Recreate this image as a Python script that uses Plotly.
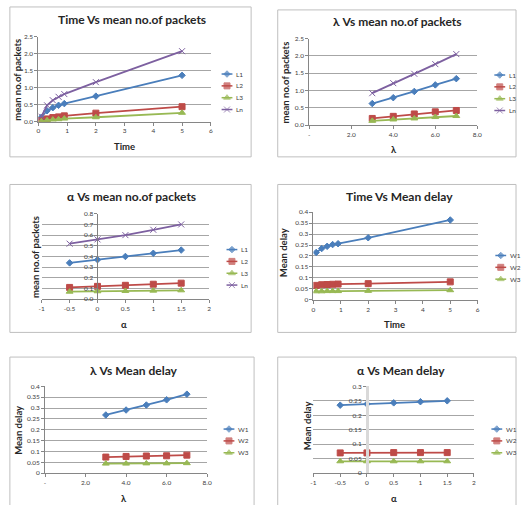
import plotly.graph_objects as go

W, H = 522, 508

# ---------------- data ----------------
time_x = [0.1, 0.3, 0.5, 0.7, 0.9, 2, 5]
lam_x = [3, 4, 5, 6, 7]
alpha_x = [-0.5, 0, 0.5, 1, 1.5]

time_L1 = [0.13, 0.32, 0.41, 0.48, 0.53, 0.75, 1.36]
time_L2 = [0.03, 0.08, 0.12, 0.14, 0.17, 0.25, 0.44]
time_L3 = [0.01, 0.04, 0.06, 0.07, 0.09, 0.13, 0.26]
time_Ln = [0.15, 0.48, 0.63, 0.73, 0.81, 1.16, 2.07]

lam_L1 = [0.62, 0.79, 0.97, 1.16, 1.34]
lam_L2 = [0.19, 0.25, 0.32, 0.38, 0.42]
lam_L3 = [0.12, 0.16, 0.19, 0.23, 0.26]
lam_Ln = [0.92, 1.21, 1.48, 1.76, 2.05]

alpha_L1 = [0.34, 0.37, 0.40, 0.43, 0.46]
alpha_L2 = [0.11, 0.12, 0.13, 0.14, 0.15]
alpha_L3 = [0.070, 0.074, 0.077, 0.080, 0.083]
alpha_Ln = [0.52, 0.56, 0.60, 0.65, 0.70]

time_W1 = [0.216, 0.234, 0.244, 0.252, 0.256, 0.283, 0.364]
time_W2 = [0.066, 0.069, 0.070, 0.071, 0.072, 0.074, 0.082]
time_W3 = [0.039, 0.039, 0.040, 0.040, 0.040, 0.041, 0.044]

lam_W1 = [0.268, 0.291, 0.314, 0.338, 0.364]
lam_W2 = [0.074, 0.077, 0.079, 0.080, 0.083]
lam_W3 = [0.044, 0.044, 0.045, 0.045, 0.046]

alpha_W1 = [0.235, 0.239, 0.243, 0.247, 0.250]
alpha_W2 = [0.070, 0.070, 0.071, 0.071, 0.071]
alpha_W3 = [0.041, 0.041, 0.041, 0.041, 0.041]

L_names = ["L1", "L2", "L3", "Ln"]
W_names = ["W1", "W2", "W3"]

titles = ["Time Vs mean no.of packets", "λ Vs mean no.of packets",
          "α Vs mean no.of packets", "Time Vs Mean delay",
          "λ Vs Mean delay", "α Vs Mean delay"]
x_titles = ["Time", "λ", "α", "Time", "λ", "α"]
y_titles = ["mean no.of packets", "mean no.of packets", "mean no.of packets",
            "Mean delay", "Mean delay", "Mean delay"]

time_ticks = [0, 1, 2, 3, 4, 5, 6]
time_ticktext = ["0", "1", "2", "3", "4", "5", "6"]
lam_ticks = [0, 2, 4, 6, 8]
lam_ticktext = ["-", "2.0", "4.0", "6.0", "8.0"]
alpha_ticks = [-1, -0.5, 0, 0.5, 1, 1.5, 2]
alpha_ticktext = ["-1", "-0.5", "0", "0.5", "1", "1.5", "2"]

pk_yticks = [0, 0.5, 1.0, 1.5, 2.0, 2.5]
pk_yticktext = ["0.0", "0.5", "1.0", "1.5", "2.0", "2.5"]
al_yticks = [0, 0.1, 0.2, 0.3, 0.4, 0.5, 0.6, 0.7, 0.8]
al_yticktext = ["0.0", "0.1", "0.2", "0.3", "0.4", "0.5", "0.6", "0.7", "0.8"]
d4_yticks = [0, 0.05, 0.1, 0.15, 0.2, 0.25, 0.3, 0.35, 0.4]
d4_yticktext = ["0", "0.05", "0.1", "0.15", "0.2", "0.25", "0.3", "0.35", "0.4"]
d3_yticks = [0, 0.05, 0.1, 0.15, 0.2, 0.25, 0.3]
d3_yticktext = ["0", "0.05", "0.1", "0.15", "0.2", "0.25", "0.3"]

# ---------------- styles ----------------
COLORS = ["#4A7EBB", "#BE4B48", "#98B954", "#7D60A0"]
SYMBOLS = ["diamond", "square", "triangle-up", "x-thin"]
MSIZE = [5, 6, 6, 6]
FONT = "Lato, Liberation Sans, sans-serif"
TICKFONT = dict(family=FONT, size=6.5, color="#404040")

panels = [
    dict(x=time_x, ys=[time_L1, time_L2, time_L3, time_Ln], names=L_names,
         xr=[0, 6], yr=[0, 2.5], xt=(time_ticks, time_ticktext), yt=(pk_yticks, pk_yticktext),
         area=(36, 211, 33, 119.3), frame=(7, 252, 3, 155), title=(131, 16),
         xtl=(123, 144), ytl=(15, 77), leg=(222, 71), cross=None),
    dict(x=lam_x, ys=[lam_L1, lam_L2, lam_L3, lam_Ln], names=L_names,
         xr=[0, 8], yr=[0, 2.5], xt=(lam_ticks, lam_ticktext), yt=(pk_yticks, pk_yticktext),
         area=(311, 481.7, 35, 122.7), frame=(279, 521, 6, 155), title=(401, 18),
         xtl=(397, 148), ytl=(287, 80), leg=(499, 72), cross=None),
    dict(x=alpha_x, ys=[alpha_L1, alpha_L2, alpha_L3, alpha_Ln], names=L_names,
         xr=[-1, 2], yr=[0, 0.8], xt=(alpha_ticks, alpha_ticktext), yt=(al_yticks, al_yticktext),
         area=(39.3, 209.3, 212.7, 299.3), frame=(7, 252, 183, 333), title=(130, 195),
         xtl=(123, 325), ytl=(33, 256), leg=(227, 249), cross=("#7F7F7F", 1)),
    dict(x=time_x, ys=[time_W1, time_W2, time_W3], names=W_names,
         xr=[0, 6], yr=[0, 0.4], xt=(time_ticks, time_ticktext), yt=(d4_yticks, d4_yticktext),
         area=(315.3, 482, 211, 300), frame=(279, 521, 183, 333), title=(403, 195),
         xtl=(398, 325), ytl=(285, 252), leg=(500, 255), cross=None),
    dict(x=lam_x, ys=[lam_W1, lam_W2, lam_W3], names=W_names,
         xr=[0, 8], yr=[0, 0.4], xt=(lam_ticks, lam_ticktext), yt=(d4_yticks, d4_yticktext),
         area=(42.7, 207.3, 387.7, 475.7), frame=(7, 255, 358, 520), title=(133, 372),
         xtl=(123, 501), ytl=(15, 432), leg=(224, 431), cross=None),
    dict(x=alpha_x, ys=[alpha_W1, alpha_W2, alpha_W3], names=W_names,
         xr=[-1, 2], yr=[0, 0.3], xt=(alpha_ticks, alpha_ticktext), yt=(d3_yticks, d3_yticktext),
         area=(315.3, 478.3, 387.7, 475.7), frame=(279, 521, 358, 520), title=(404, 372),
         xtl=(397, 501), ytl=(309, 428), leg=(496, 431), cross=("#D9D9D9", 3)),
]

fig = go.Figure()
layout = dict(width=W, height=H, margin=dict(l=0, r=0, t=0, b=0),
              paper_bgcolor="white", plot_bgcolor="rgba(0,0,0,0)",
              showlegend=False, autosize=False)
shapes, annotations = [], []

layout["xaxis7"] = dict(domain=[0, 1], range=[0, W], visible=False, fixedrange=True)
layout["yaxis7"] = dict(domain=[0, 1], range=[H, 0], visible=False, fixedrange=True, anchor="x7")

for i, p in enumerate(panels):
    k = i + 1
    xa = "xaxis" if k == 1 else f"xaxis{k}"
    ya = "yaxis" if k == 1 else f"yaxis{k}"
    xref = "x" if k == 1 else f"x{k}"
    yref = "y" if k == 1 else f"y{k}"
    x0, x1, yt0, yb0 = p["area"]
    xdom = [x0 / W, x1 / W]
    ydom = [1 - yb0 / H, 1 - yt0 / H]
    layout[xa] = dict(domain=xdom, range=p["xr"], anchor=yref,
                      tickvals=p["xt"][0], ticktext=p["xt"][1], tickfont=TICKFONT,
                      showgrid=False, zeroline=False, showline=True, linecolor="#868686",
                      linewidth=1, ticks="outside", ticklen=3, tickcolor="#868686",
                      fixedrange=True)
    ydict = dict(domain=ydom, range=p["yr"], tickvals=p["yt"][0], ticktext=p["yt"][1],
                 tickfont=TICKFONT, showgrid=True, gridcolor="#A6A6A6", gridwidth=1,
                 zeroline=False, showline=True, linecolor="#868686", linewidth=1,
                 ticks="outside", ticklen=3, tickcolor="#868686", fixedrange=True)
    if p["cross"] is not None:
        frac = (0 - p["xr"][0]) / (p["xr"][1] - p["xr"][0])
        ydict.update(anchor="free", position=xdom[0] + frac * (xdom[1] - xdom[0]),
                     linecolor=p["cross"][0], linewidth=p["cross"][1])
    else:
        ydict.update(anchor=xref)
    layout[ya] = ydict

    for j, (ys, nm) in enumerate(zip(p["ys"], p["names"])):
        fig.add_trace(go.Scatter(
            x=p["x"], y=ys, name=nm, mode="lines+markers", xaxis=xref, yaxis=yref,
            line=dict(color=COLORS[j], width=1.8),
            marker=dict(symbol=SYMBOLS[j], size=MSIZE[j], color=COLORS[j],
                        line=dict(color=COLORS[j], width=1)),
            hoverinfo="skip"))

    fx0, fx1, fy0, fy1 = p["frame"]
    shapes.append(dict(type="rect", xref="x7", yref="y7", x0=fx0, x1=fx1, y0=fy0, y1=fy1,
                       line=dict(color="#BFBFBF", width=1), layer="below"))
    annotations.append(dict(text=f"<b>{titles[i]}</b>", x=p["title"][0], y=p["title"][1],
                            xref="x7", yref="y7", showarrow=False,
                            font=dict(family=FONT, size=12, color="#262626")))
    annotations.append(dict(text=f"<b>{x_titles[i]}</b>", x=p["xtl"][0], y=p["xtl"][1],
                            xref="x7", yref="y7", showarrow=False,
                            font=dict(family=FONT, size=9.5, color="#262626")))
    annotations.append(dict(text=f"<b>{y_titles[i]}</b>", x=p["ytl"][0], y=p["ytl"][1],
                            xref="x7", yref="y7", showarrow=False, textangle=-90,
                            font=dict(family=FONT, size=9.5, color="#262626")))
    lx, ly = p["leg"]
    for j, nm in enumerate(p["names"]):
        gy = ly + j * 12
        fig.add_trace(go.Scatter(
            x=[lx, lx + 5.5, lx + 11], y=[gy, gy, gy], mode="lines+markers",
            xaxis="x7", yaxis="y7", showlegend=False, hoverinfo="skip",
            line=dict(color=COLORS[j], width=1.5),
            marker=dict(symbol=SYMBOLS[j], size=[0, MSIZE[j], 0], color=COLORS[j],
                        line=dict(color=COLORS[j], width=1))))
        annotations.append(dict(text=nm, x=lx + 13, y=gy, xref="x7", yref="y7",
                                showarrow=False, xanchor="left",
                                font=dict(family=FONT, size=6.5, color="#404040")))

layout["shapes"] = shapes
layout["annotations"] = annotations
fig.update_layout(**layout)
fig.write_html("out.html", config={"displayModeBar": False, "staticPlot": True},
               post_script="document.body.style.margin='0';document.body.style.overflow='hidden';")
